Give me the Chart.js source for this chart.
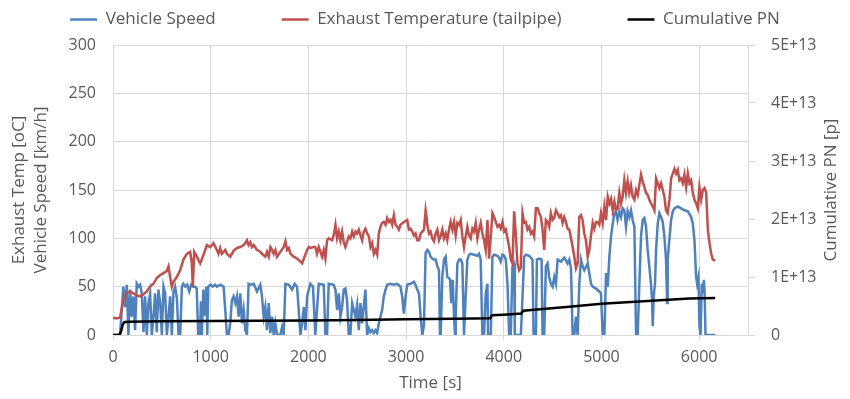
<!DOCTYPE html>
<html>
<head>
<meta charset="utf-8">
<script src="https://cdn.jsdelivr.net/npm/chart.js@4.4.1/dist/chart.umd.min.js"></script>
<style>
  html, body { margin: 0; padding: 0; background: #fff; }
  #wrap { width: 850px; height: 399px; }
</style>
</head>
<body>
<div id="wrap"><canvas id="pnChart" width="850" height="399"></canvas></div>
<script>
// time [s] / value pairs
const speedTime = [0, 72, 89, 106, 124, 141, 158, 175, 192, 209, 226, 243, 260, 277, 295, 312, 329, 346, 363, 380, 397, 414, 431, 448, 465, 483, 500, 517, 534, 551, 568, 585, 602, 619, 636, 654, 671, 688, 705, 720, 740, 760, 780, 800, 820, 840, 857, 872, 890, 900, 910, 925, 940, 955, 965, 975, 1000, 1020, 1045,
  1063, 1100, 1132, 1149, 1166, 1183, 1200, 1217, 1234, 1252, 1269, 1286, 1303, 1320, 1337, 1354, 1371, 1388, 1405, 1440, 1474, 1508, 1525, 1542, 1559, 1576, 1594, 1611, 1628, 1645, 1662, 1679, 1713, 1730, 1747, 1765, 1800, 1833, 1860, 1884, 1901, 1918, 1936, 1953, 1970, 1987, 2004, 2021, 2047,
  2071, 2088, 2106, 2157, 2174, 2191, 2208, 2259, 2277, 2294, 2311, 2328, 2345, 2362, 2379, 2396, 2413, 2430, 2448, 2465, 2482, 2499, 2516, 2533, 2550, 2567, 2584, 2601, 2619, 2636, 2653, 2670, 2687, 2704, 2721, 2738, 2755, 2772, 2790, 2807, 2841, 2875, 2909, 2943, 2960, 2978, 2995, 3012, 3046, 3080,
  3097, 3114, 3132, 3149, 3166, 3183, 3200, 3217, 3234, 3251, 3268, 3285, 3303, 3320, 3337, 3347, 3354, 3371, 3388, 3405, 3422, 3439, 3450, 3463, 3477, 3491, 3501, 3508, 3525, 3542, 3559, 3576, 3593, 3610, 3627, 3645, 3662, 3696, 3730, 3747, 3764, 3781, 3798, 3815, 3833, 3839, 3867, 3884, 3901, 3935, 3952, 3969, 3987, 4004, 4021, 4038, 4055, 4072, 4089, 4106,
  4113, 4140, 4175, 4192, 4209, 4226, 4260, 4294, 4305, 4329, 4339, 4363, 4387, 4397, 4414, 4431, 4448, 4465, 4482, 4500, 4517, 4534, 4551, 4585, 4619, 4653, 4671, 4688, 4705, 4722, 4739, 4756, 4773, 4790, 4807, 4824, 4859, 4893, 4910, 4944, 4978, 4995, 5013, 5030, 5047, 5064, 5081, 5098, 5115, 5132,
  5148, 5165, 5183, 5200, 5217, 5234, 5251, 5268, 5285, 5302, 5319, 5337, 5345, 5354, 5371, 5388, 5405, 5422, 5439, 5456, 5473, 5490, 5507, 5518, 5525, 5535, 5548, 5559, 5576, 5593, 5610, 5627, 5644, 5661, 5672, 5678, 5696, 5713, 5730, 5747, 5781, 5815, 5849, 5884, 5918, 5935, 5952, 5969, 5979, 5993, 6003, 6014, 6027, 6038, 6048, 6055, 6065, 6164];
const speedKmh = [0, 0, 25, 50, 29, 52, 0, 47, 19, 40, 5, 53, 50, 52, 43, 3, 40, 0, 33, 43, 0, 19, 43, 3, 47, 33, 0, 50, 43, 0, 19, 40, 0, 45, 50, 38, 0, 0, 50, 53, 50, 52, 45, 52, 50, 50, 48, 0, 0, 35, 0, 47, 20, 50, 0, 50, 52, 50, 52,
  50, 52, 50, 26, 0, 0, 12, 36, 40, 33, 40, 19, 43, 12, 26, 5, 0, 53, 52, 53, 45, 52, 40, 19, 29, 5, 33, 2, 19, 0, 12, 0, 0, 8, 0, 53, 52, 47, 53, 50, 26, 0, 12, 29, 5, 40, 47, 53, 50,
  0, 26, 53, 52, 0, 0, 53, 52, 47, 26, 43, 19, 29, 47, 48, 36, 0, 0, 33, 26, 19, 31, 5, 33, 12, 29, 47, 0, 7, 3, 5, 2, 5, 2, 12, 19, 26, 40, 47, 52, 53, 52, 53, 50, 40, 22, 40, 52, 53, 55,
  52, 47, 43, 19, 0, 10, 85, 88, 86, 81, 79, 78, 78, 71, 67, 0, 0, 60, 78, 81, 60, 59, 57, 33, 57, 19, 0, 20, 74, 78, 78, 74, 0, 40, 78, 83, 84, 83, 82, 84, 78, 0, 0, 43, 53, 0, 0, 81, 83, 82, 80, 76, 83, 82, 78, 53, 0, 0, 71, 74,
  0, 0, 0, 40, 81, 83, 82, 78, 0, 0, 78, 79, 78, 0, 0, 71, 74, 60, 53, 50, 60, 53, 78, 76, 80, 74, 78, 69, 0, 0, 19, 0, 53, 78, 71, 67, 74, 53, 50, 48, 45, 43, 0, 0, 64, 50, 81, 102, 115, 126,
  128, 119, 128, 122, 131, 129, 112, 128, 122, 129, 119, 112, 60, 0, 0, 53, 102, 119, 121, 112, 88, 71, 53, 36, 9, 40, 53, 88, 115, 126, 122, 117, 102, 78, 33, 78, 100, 119, 128, 131, 133, 131, 129, 128, 122, 115, 98, 60, 53, 60, 9, 0, 53, 43, 57, 46, 0, 0];

const tempTime = [0, 40, 72, 106, 140, 174, 208, 243, 277, 311, 345, 379, 414, 448, 482, 516, 550, 568, 585, 602, 619, 653, 687, 721, 756, 790, 807, 817, 831, 858, 892, 927, 961, 995, 1029,
  1063, 1080, 1097, 1114, 1132, 1149, 1166, 1200, 1234, 1269, 1303, 1337, 1354, 1371, 1388, 1405, 1422, 1440, 1474, 1508, 1525, 1559, 1576, 1594, 1611, 1628, 1645, 1662, 1679, 1713, 1747, 1765, 1782, 1800, 1816, 1850, 1884, 1918, 1936, 1953, 1987, 2004, 2021, 2055,
  2071, 2088, 2106, 2123, 2140, 2157, 2174, 2191, 2208, 2242, 2259, 2277, 2294, 2311, 2328, 2345, 2362, 2379, 2413, 2430, 2448, 2465, 2482, 2499, 2516, 2533, 2550, 2567, 2584, 2601, 2619, 2636, 2653, 2670, 2687, 2704, 2721, 2738, 2755, 2772, 2790, 2807, 2824, 2841, 2858, 2875, 2892, 2909, 2926, 2943, 2978, 3012, 3029, 3046, 3063, 3080,
  3097, 3114, 3132, 3149, 3166, 3183, 3200, 3210, 3217, 3234, 3251, 3268, 3285, 3303, 3320, 3337, 3354, 3371, 3388, 3405, 3422, 3439, 3456, 3474, 3491, 3508, 3525, 3542, 3559, 3576, 3593, 3610, 3627, 3645, 3662, 3679, 3696, 3713, 3730, 3747, 3764, 3781, 3798, 3815, 3833, 3850, 3867, 3884, 3901, 3918, 3935, 3952, 3969, 3987, 4004, 4021, 4038, 4055, 4072, 4089,
  4106, 4123, 4140, 4157, 4175, 4192, 4209, 4226, 4243, 4260, 4277, 4294, 4311, 4329, 4346, 4363, 4380, 4397, 4414, 4431, 4448, 4465, 4482, 4500, 4517, 4534, 4551, 4568, 4585, 4602, 4619, 4636, 4653, 4671, 4688, 4705, 4722, 4739, 4756, 4773, 4790, 4807, 4824, 4841, 4859, 4876, 4893, 4910, 4927, 4944, 4961, 4978, 4995, 5013, 5030, 5047, 5064, 5081, 5098, 5115, 5132,
  5148, 5165, 5183, 5200, 5217, 5234, 5251, 5268, 5285, 5302, 5319, 5337, 5354, 5371, 5405, 5422, 5439, 5456, 5473, 5490, 5508, 5525, 5542, 5559, 5576, 5593, 5610, 5627, 5644, 5661, 5678, 5696, 5713, 5730, 5747, 5764, 5781, 5798, 5815, 5832, 5849, 5867, 5884, 5901, 5918, 5935, 5952, 5969, 5986, 6003, 6020, 6038, 6055, 6072, 6089, 6106, 6123, 6140, 6164];
const tempC = [18, 17, 18, 36, 43, 45, 43, 41, 40, 42, 45, 50, 53, 59, 62, 64, 66, 71, 60, 50, 55, 60, 67, 78, 84, 86, 74, 50, 86, 81, 74, 83, 93, 91, 95,
  88, 84, 90, 84, 86, 88, 84, 81, 87, 90, 91, 93, 95, 98, 93, 96, 91, 93, 88, 86, 84, 81, 86, 81, 91, 88, 84, 88, 81, 86, 91, 97, 88, 90, 84, 81, 79, 76, 74, 79, 88, 91, 90, 91,
  91, 84, 91, 86, 81, 88, 79, 98, 100, 98, 103, 114, 100, 107, 98, 107, 96, 91, 102, 100, 107, 102, 107, 105, 109, 103, 98, 107, 110, 105, 102, 91, 95, 84, 88, 83, 105, 112, 116, 117, 114, 121, 117, 119, 114, 124, 114, 112, 109, 114, 117, 119, 109, 110, 107, 103,
  105, 98, 98, 105, 107, 109, 129, 122, 114, 105, 107, 100, 97, 105, 109, 98, 102, 109, 100, 105, 98, 109, 117, 109, 117, 103, 116, 114, 119, 102, 91, 102, 112, 103, 100, 110, 107, 116, 100, 109, 116, 105, 98, 88, 119, 79, 102, 126, 122, 117, 112, 114, 110, 117, 107, 109, 100, 91, 78, 74,
  128, 105, 74, 67, 70, 126, 116, 117, 109, 112, 105, 107, 102, 131, 131, 126, 122, 109, 88, 119, 117, 112, 126, 119, 121, 129, 126, 122, 124, 116, 122, 117, 110, 109, 100, 91, 81, 69, 74, 122, 124, 119, 105, 98, 81, 88, 103, 116, 110, 117, 117, 114, 126, 116, 133, 119, 143, 136, 141, 129, 138,
  129, 131, 147, 136, 143, 160, 147, 159, 147, 155, 143, 140, 150, 145, 166, 159, 153, 147, 145, 140, 136, 133, 129, 162, 157, 152, 157, 150, 143, 129, 126, 140, 162, 167, 172, 167, 171, 160, 162, 157, 166, 153, 167, 157, 160, 147, 140, 136, 131, 153, 140, 150, 152, 147, 109, 95, 84, 78, 77];

const pnTime = [0, 40, 70, 85, 100, 115, 150, 500, 1000, 1500, 2000, 2500, 3000, 3500, 3860, 3880, 4000, 4180, 4200, 4400, 4700, 5000, 5300, 5600, 5900, 6164];
const pnCum = [0, 0, 0.01e13, 0.08e13, 0.18e13, 0.22e13, 0.23e13, 0.235e13, 0.24e13, 0.245e13, 0.25e13, 0.26e13, 0.27e13, 0.28e13, 0.29e13, 0.34e13, 0.35e13, 0.37e13, 0.42e13, 0.45e13, 0.49e13, 0.54e13, 0.57e13, 0.60e13, 0.63e13, 0.64e13];

const xTicks = [0, 1000, 2000, 3000, 4000, 5000, 6000];

const toPoints = (xs, ys) => xs.map((x, i) => ({ x: x, y: ys[i] }));

const FONT = 'Open Sans';
const TXT = '#595959';
const GRID = '#d9d9d9';

Chart.defaults.font.family = FONT;
Chart.defaults.font.size = 16;
Chart.defaults.color = TXT;

// right axis title reads bottom-to-top like Excel, so draw it by hand
const rightTitle = {
    id: 'rightTitle',
    afterDraw(chart) {
        const ctx = chart.ctx;
        const area = chart.chartArea;
        ctx.save();
        ctx.translate(831, (area.top + area.bottom) / 2);
        ctx.rotate(-Math.PI / 2);
        ctx.font = '17px ' + FONT;
        ctx.fillStyle = TXT;
        ctx.textAlign = 'center';
        ctx.textBaseline = 'middle';
        ctx.fillText('Cumulative PN [p]', 0, 0);
        ctx.restore();
    }
};

// wide gaps between legend items but a short legend box
const legendHeight = {
    id: 'legendHeight',
    beforeLayout(chart) {
        const lg = chart.legend;
        if (lg && !lg._fixed) {
            const fit = lg.fit.bind(lg);
            lg.fit = function () { fit(); this.height = 100; };
            lg._fixed = true;
        }
    }
};

const ctx = document.getElementById('pnChart').getContext('2d');

new Chart(ctx, {
    type: 'line',
    data: {
        datasets: [{
            label: 'Vehicle Speed',
            data: toPoints(speedTime, speedKmh),
            borderColor: '#4f81bd',
            backgroundColor: '#4f81bd',
            borderWidth: 2.5,
            pointRadius: 0,
            tension: 0,
            yAxisID: 'y',
            order: 2
        }, {
            label: 'Exhaust Temperature (tailpipe)',
            data: toPoints(tempTime, tempC),
            borderColor: '#c0504d',
            backgroundColor: '#c0504d',
            borderWidth: 2.5,
            pointRadius: 0,
            tension: 0,
            yAxisID: 'y',
            order: 1
        }, {
            label: 'Cumulative PN',
            data: toPoints(pnTime, pnCum),
            borderColor: '#000000',
            backgroundColor: '#000000',
            borderWidth: 2.5,
            pointRadius: 0,
            tension: 0,
            yAxisID: 'y2',
            order: 0
        }]
    },
    options: {
        responsive: false,
        animation: false,
        layout: { padding: { top: -55, left: 0, right: 0, bottom: 0 } },
        plugins: {
            legend: {
                position: 'top',
                labels: {
                    usePointStyle: true,
                    pointStyle: 'line',
                    pointStyleWidth: 27,
                    padding: 66,
                    color: TXT,
                    font: { size: 17 },
                    sort: (a, b) => a.datasetIndex - b.datasetIndex
                }
            },
            tooltip: { enabled: false }
        },
        scales: {
            x: {
                type: 'linear',
                min: 0,
                max: 6500,
                afterBuildTicks: (scale) => { scale.ticks = xTicks.map(v => ({ value: v })); },
                ticks: {
                    callback: (v) => String(v),
                    padding: 8,
                    maxRotation: 0
                },
                grid: { color: GRID, tickLength: 5, tickColor: GRID },
                border: { color: GRID },
                title: { display: true, text: 'Time [s]', font: { size: 17 }, padding: { top: 0, bottom: 6 } },
                afterFit: (scale) => { scale.height = 64; }
            },
            y: {
                position: 'left',
                min: 0,
                max: 300,
                ticks: { stepSize: 50, padding: 17 },
                grid: { color: GRID, drawTicks: false },
                border: { display: false },
                title: {
                    display: true,
                    text: ['Exhaust Temp [oC]', 'Vehicle Speed [km/h]'],
                    padding: { top: 8, bottom: 0 },
                    font: { size: 17, lineHeight: 1.3 }
                },
                afterFit: (scale) => { scale.width = 113; }
            },
            y2: {
                position: 'right',
                min: 0,
                max: 5e13,
                ticks: {
                    stepSize: 1e13,
                    padding: 16,
                    callback: (v) => v === 0 ? '0' : (Math.round(v / 1e12) / 10) + 'E+13'
                },
                grid: { drawOnChartArea: false, tickLength: 7, tickColor: GRID },
                border: { color: GRID },
                afterFit: (scale) => { scale.width = 102; }
            }
        }
    },
    plugins: [rightTitle, legendHeight]
});
</script>
</body>
</html>
